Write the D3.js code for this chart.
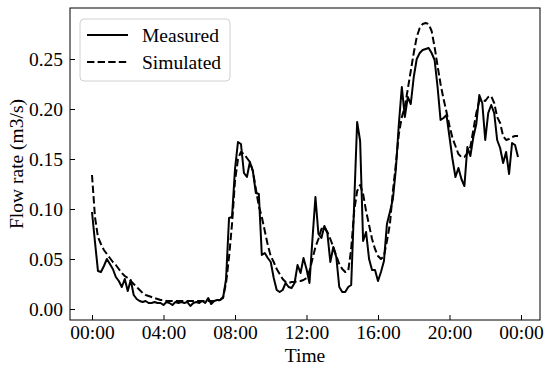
<!DOCTYPE html>
<html>
<head>
<meta charset="utf-8">
<script src="https://cdn.jsdelivr.net/npm/d3@7"></script>
<style>
  body { margin: 0; background: #fff; }
  svg text { font-family: "Liberation Serif", "Times New Roman", serif; fill: #000; }
</style>
</head>
<body>
<svg id="chart" width="550" height="371"></svg>
<script>
// Data: 10-minute flow rates (m3/s) over one day
const stepMinutes = 10;

const measured = [
  0.097,0.067,0.038,0.037,0.043,0.050,0.045,0.040,0.032,0.028,
  0.022,0.030,0.018,0.029,0.014,0.010,0.008,0.007,0.008,0.006,
  0.006,0.007,0.006,0.006,0.004,0.007,0.006,0.004,0.007,0.006,
  0.007,0.006,0.007,0.003,0.006,0.007,0.006,0.008,0.006,0.011,
  0.005,0.008,0.009,0.009,0.011,0.030,0.091,0.092,0.140,0.167,
  0.165,0.136,0.132,0.147,0.138,0.116,0.115,0.054,0.056,0.051,
  0.047,0.031,0.019,0.017,0.019,0.026,0.022,0.021,0.026,0.044,
  0.036,0.051,0.040,0.026,0.070,0.112,0.075,0.071,0.083,0.076,
  0.047,0.062,0.052,0.022,0.017,0.017,0.022,0.024,0.105,0.187,
  0.168,0.068,0.077,0.050,0.039,0.039,0.028,0.037,0.048,0.085,
  0.097,0.110,0.140,0.185,0.222,0.192,0.212,0.205,0.232,0.250,
  0.256,0.259,0.260,0.261,0.256,0.249,0.222,0.189,0.191,0.194,
  0.172,0.150,0.132,0.141,0.130,0.123,0.162,0.153,0.172,0.185,
  0.214,0.206,0.169,0.196,0.204,0.196,0.169,0.161,0.146,0.157,
  0.135,0.166,0.164,0.152
];

const simulated = [
  0.134,0.092,0.072,0.065,0.059,0.055,0.051,0.047,0.044,0.040,
  0.036,0.033,0.031,0.028,0.025,0.022,0.019,0.016,0.014,0.013,
  0.012,0.011,0.010,0.009,0.009,0.008,0.008,0.008,0.008,0.008,
  0.008,0.008,0.008,0.008,0.008,0.008,0.008,0.008,0.008,0.008,
  0.008,0.008,0.008,0.009,0.012,0.026,0.052,0.085,0.128,0.150,
  0.157,0.155,0.151,0.147,0.138,0.120,0.103,0.092,0.078,0.064,
  0.053,0.047,0.040,0.035,0.030,0.027,0.026,0.027,0.027,0.028,
  0.028,0.029,0.031,0.038,0.050,0.062,0.070,0.080,0.082,0.077,
  0.070,0.062,0.053,0.045,0.040,0.037,0.038,0.060,0.098,0.118,
  0.124,0.115,0.098,0.084,0.070,0.060,0.053,0.050,0.053,0.068,
  0.085,0.118,0.145,0.175,0.192,0.202,0.220,0.238,0.256,0.272,
  0.281,0.285,0.286,0.285,0.278,0.262,0.243,0.225,0.210,0.197,
  0.183,0.171,0.163,0.155,0.152,0.152,0.156,0.162,0.179,0.196,
  0.208,0.209,0.208,0.212,0.213,0.206,0.192,0.186,0.173,0.169,
  0.170,0.172,0.173,0.173
];

const xTickHours  = [0, 4, 8, 12, 16, 20, 24];
const xTickLabels = ["00:00", "04:00", "08:00", "12:00", "16:00", "20:00", "00:00"];
const yTicks      = [0.00, 0.05, 0.10, 0.15, 0.20, 0.25];

const seriesNames = ["Measured", "Simulated"];

// Layout
const plot = { left: 70, right: 540, top: 8, bottom: 320 };
const FONT = 19.5;

const svg = d3.select("#chart");

const x = d3.scaleLinear().domain([-1.231, 25.063]).range([plot.left, plot.right]);
const y = d3.scaleLinear().domain([-0.011, 0.301]).range([plot.bottom, plot.top]);

const hourOf = i => i * stepMinutes / 60;

svg.append("defs").append("clipPath").attr("id", "clip")
  .append("rect")
  .attr("x", plot.left).attr("y", plot.top)
  .attr("width", plot.right - plot.left).attr("height", plot.bottom - plot.top);

// Series lines
const line = d3.line().x((d, i) => x(hourOf(i))).y(d => y(d));

const gLines = svg.append("g").attr("clip-path", "url(#clip)");
gLines.append("path").datum(simulated).attr("d", line)
  .attr("fill", "none").attr("stroke", "#000").attr("stroke-width", 2)
  .attr("stroke-dasharray", "7.4,3.2").attr("stroke-linejoin", "round");
gLines.append("path").datum(measured).attr("d", line)
  .attr("fill", "none").attr("stroke", "#000").attr("stroke-width", 2)
  .attr("stroke-linejoin", "round");

// Axes (ticks pointing inward)
const xAxis = d3.axisBottom(x).tickValues(xTickHours)
  .tickFormat((d, i) => xTickLabels[i]).tickSizeInner(-5).tickSizeOuter(0).tickPadding(5);
const yAxis = d3.axisLeft(y).tickValues(yTicks)
  .tickFormat(d3.format(".2f")).tickSizeInner(-5).tickSizeOuter(0).tickPadding(7);

const gx = svg.append("g").attr("transform", `translate(0,${plot.bottom})`).call(xAxis);
const gy = svg.append("g").attr("transform", `translate(${plot.left},0)`).call(yAxis);
[gx, gy].forEach(g => {
  g.select(".domain").remove();
  g.selectAll(".tick line").attr("stroke", "#000").attr("stroke-width", 1);
  g.selectAll(".tick text").style("font-size", FONT + "px")
    .style("font-family", '"Liberation Serif", serif');
});

// Frame
svg.append("rect")
  .attr("x", plot.left).attr("y", plot.top)
  .attr("width", plot.right - plot.left).attr("height", plot.bottom - plot.top)
  .attr("fill", "none").attr("stroke", "#000").attr("stroke-width", 1);

// Axis titles
svg.append("text")
  .attr("x", (plot.left + plot.right) / 2).attr("y", 362)
  .attr("text-anchor", "middle").style("font-size", FONT + "px").text("Time");
svg.append("text")
  .attr("transform", `translate(23,${(plot.top + plot.bottom) / 2}) rotate(-90)`)
  .attr("text-anchor", "middle").style("font-size", FONT + "px").text("Flow rate (m3/s)");

// Legend
const legend = svg.append("g").attr("transform", "translate(80,19)");
legend.append("rect")
  .attr("width", 150).attr("height", 62).attr("rx", 4)
  .attr("fill", "#fff").attr("fill-opacity", 0.8)
  .attr("stroke", "#d0d0d0").attr("stroke-width", 1);
seriesNames.forEach((name, i) => {
  const row = legend.append("g").attr("transform", `translate(0,${16 + i * 27})`);
  row.append("line").attr("x1", 7).attr("x2", 48)
    .attr("stroke", "#000").attr("stroke-width", 2)
    .attr("stroke-dasharray", i === 1 ? "7.4,3.2" : null);
  row.append("text").attr("x", 62).attr("y", 7)
    .style("font-size", FONT + "px").text(name);
});
</script>
</body>
</html>
